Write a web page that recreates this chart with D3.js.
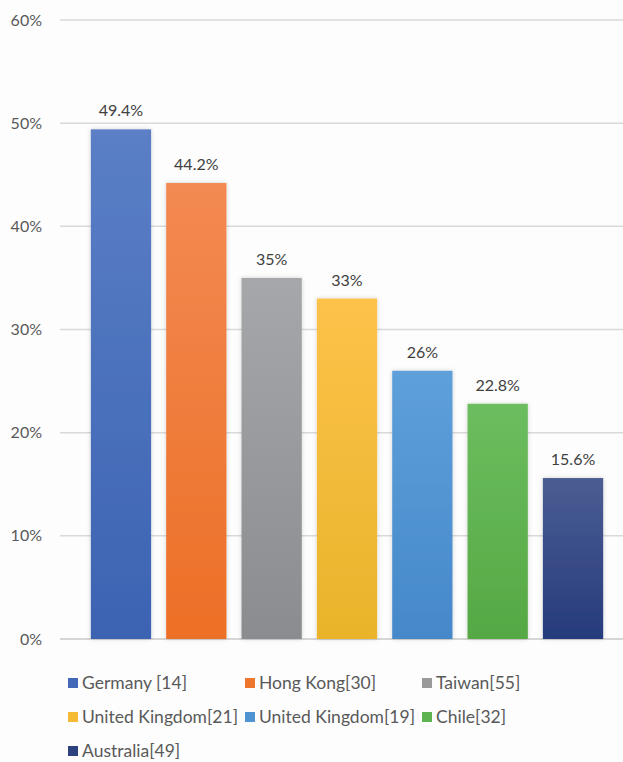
<!DOCTYPE html>
<html>
<head>
<meta charset="utf-8">
<script src="https://cdn.jsdelivr.net/npm/d3@7"></script>
<style>
  html, body { margin: 0; padding: 0; background: #fdfdfd; }
  svg { display: block; font-family: Lato, "Open Sans", sans-serif; }
</style>
</head>
<body>
<svg id="chart" width="623" height="762"></svg>
<script>
// Share of respondents by study (country [reference])
const categories = ["Germany [14]", "Hong Kong[30]", "Taiwan[55]", "United Kingdom[21]", "United Kingdom[19]", "Chile[32]", "Australia[49]"];
const values = [49.4, 44.2, 35, 33, 26, 22.8, 15.6];
const valueLabels = ["49.4%", "44.2%", "35%", "33%", "26%", "22.8%", "15.6%"];
const yTicks = [0, 10, 20, 30, 40, 50, 60];
// top / bottom gradient stops for each bar
const colorsTop = ["#5b7fc6", "#f38a52", "#a6a7aa", "#fdc24a", "#5ea0da", "#6cbd5f", "#4b5d92"];
const colorsBottom = ["#3b63b2", "#ec6f26", "#8b8c90", "#e9b42a", "#4588ca", "#56a845", "#263b7c"];
const legendColors = ["#4468b8", "#ee762e", "#9a9a9a", "#f6bb34", "#4f94d2", "#5db350", "#2d427f"];

const svg = d3.select("#chart");

const y = d3.scaleLinear().domain([0, 60]).range([639, 20]);
const x = d3.scaleBand().domain(categories).range([83.3, 610.7])
  .paddingInner(0.2).paddingOuter(0.1);

const defs = svg.append("defs");
categories.forEach((c, i) => {
  const g = defs.append("linearGradient").attr("id", "grad" + i)
    .attr("x1", 0).attr("y1", 0).attr("x2", 0).attr("y2", 1);
  g.append("stop").attr("offset", "0%").attr("stop-color", colorsTop[i]);
  g.append("stop").attr("offset", "100%").attr("stop-color", colorsBottom[i]);
});
const shadow = defs.append("filter").attr("id", "soft")
  .attr("x", "-20%").attr("y", "-20%").attr("width", "140%").attr("height", "140%");
shadow.append("feDropShadow").attr("dx", 0).attr("dy", 0)
  .attr("stdDeviation", 2).attr("flood-color", "#000").attr("flood-opacity", 0.18);

// gridlines + y axis labels
const yAxis = d3.axisLeft(y).tickValues(yTicks).tickFormat(d => d + "%")
  .tickSize(0).tickPadding(0);
const axisG = svg.append("g").attr("transform", "translate(42,0)").call(yAxis);
axisG.select(".domain").remove();
axisG.selectAll("text").attr("fill", "#595959").style("font-size", "16px")
  .style("font-family", "Lato, 'Open Sans', sans-serif");

svg.append("g").selectAll("line").data(yTicks).join("line")
  .attr("x1", 60).attr("x2", 623)
  .attr("y1", d => y(d)).attr("y2", d => y(d))
  .attr("stroke", d => d === 0 ? "#c8c8c8" : "#d9d9d9")
  .attr("stroke-width", 1.5);

// bars
svg.append("g").selectAll("rect").data(values).join("rect")
  .attr("x", (d, i) => x(categories[i]))
  .attr("width", x.bandwidth())
  .attr("y", d => y(d))
  .attr("height", d => y(0) - y(d))
  .attr("fill", (d, i) => `url(#grad${i})`)
  .attr("filter", "url(#soft)");

// value labels
svg.append("g").selectAll("text").data(values).join("text")
  .attr("x", (d, i) => x(categories[i]) + x.bandwidth() / 2)
  .attr("y", d => y(d) - 13)
  .attr("text-anchor", "middle")
  .attr("fill", "#404040")
  .style("font-size", "16px")
  .text((d, i) => valueLabels[i]);

// legend
const colX = [68, 245, 422];
const rowY = [683, 717, 751];
const legend = svg.append("g").selectAll("g").data(categories).join("g")
  .attr("transform", (d, i) => `translate(${colX[i % 3]},${rowY[Math.floor(i / 3)]})`);
legend.append("rect").attr("x", 0).attr("y", -5).attr("width", 10).attr("height", 10)
  .attr("fill", (d, i) => legendColors[i]);
legend.append("text").attr("x", 14).attr("y", 0).attr("dy", "0.35em")
  .attr("fill", "#595959").style("font-size", "17.5px").text(d => d);
</script>
</body>
</html>
